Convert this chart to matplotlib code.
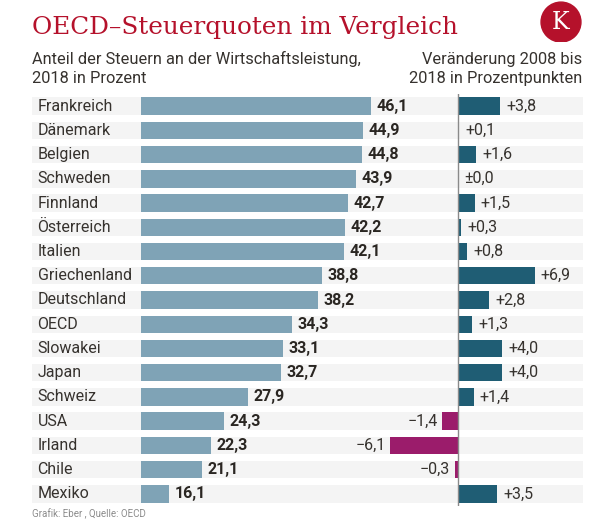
import matplotlib.pyplot as plt
from matplotlib.patches import Circle

laender = ['Frankreich', 'Dänemark', 'Belgien', 'Schweden', 'Finnland',
           'Österreich', 'Italien', 'Griechenland', 'Deutschland', 'OECD',
           'Slowakei', 'Japan', 'Schweiz', 'USA', 'Irland', 'Chile', 'Mexiko']
quote_2018 = [46.1, 44.9, 44.8, 43.9, 42.7, 42.2, 42.1, 38.8, 38.2, 34.3,
              33.1, 32.7, 27.9, 24.3, 22.3, 21.1, 16.1]
veraenderung = [3.8, 0.1, 1.6, 0.0, 1.5, 0.3, 0.8, 6.9, 2.8, 1.3,
                4.0, 4.0, 1.4, -1.4, -6.1, -0.3, 3.5]

W, H = 616, 525
ROT = '#b5112b'
TEXT = '#36322e'
plt.rcParams['font.family'] = ['Roboto', 'DejaVu Sans']


def box(x0, y0, x1, y1):
    # Pixelkoordinaten (oben links) -> figure-Koordinaten
    return [x0 / W, 1 - y1 / H, (x1 - x0) / W, (y1 - y0) / H]


def zahl(v, vorzeichen=False):
    s = f'{abs(v):.1f}'.replace('.', ',')
    if not vorzeichen:
        return s
    if v > 0:
        return '+' + s
    if v < 0:
        return '\u2212' + s
    return '\u00b1' + s


fig = plt.figure(figsize=(W / 100, H / 100), dpi=100)
fig.patch.set_facecolor('white')

n = len(laender)
y = list(range(n))
oben, unten = 94, 506
bar_h = 0.72
basis = 12  # linke Achse beginnt nicht bei null

# Hintergrundstreifen
ax_bg = fig.add_axes(box(32, oben, 583, unten))
ax_bg.barh(y, [1] * n, left=0, height=bar_h, color='#f4f4f4')
ax_bg.set_xlim(0, 1)
ax_bg.set_ylim(n - 0.5, -0.5)
ax_bg.axis('off')
for i, land in enumerate(laender):
    ax_bg.text(0.01, i, land, va='center', ha='left', fontsize=11.5, color=TEXT)

# linke Balken: Steuerquote 2018
ax1 = fig.add_axes(box(141, oben, 450, unten))
ax1.barh(y, [v - basis for v in quote_2018], left=basis, height=bar_h,
         color='#7fa3b6')
ax1.set_xlim(basis, basis + 309 / 6.75)
ax1.set_ylim(n - 0.5, -0.5)
ax1.axis('off')
ax1.patch.set_alpha(0)
for i, v in enumerate(quote_2018):
    ax1.annotate(zahl(v), (v, i), xytext=(4, 0), textcoords='offset points',
                 va='center', ha='left', fontsize=11.5, fontweight='bold',
                 color='#2a2622')

# rechte Balken: Veränderung 2008-2018
px = 11.1
ax2 = fig.add_axes(box(380, oben, 583, unten))
ax2.set_xlim(-(458 - 380) / px, (583 - 458) / px)
ax2.set_ylim(n - 0.5, -0.5)
farben = ['#1f5d74' if v >= 0 else '#9b1c6b' for v in veraenderung]
ax2.barh(y, veraenderung, height=bar_h, color=farben)
ax2.axvline(0, color='#8a8a8a', lw=1)
ax2.axis('off')
ax2.patch.set_alpha(0)
for i, v in enumerate(veraenderung):
    if v >= 0:
        ax2.annotate(zahl(v, True), (v, i), xytext=(4.5, 0),
                     textcoords='offset points', va='center', ha='left',
                     fontsize=11.5, color=TEXT)
    else:
        ax2.annotate(zahl(v, True), (v, i), xytext=(-3.5, 0),
                     textcoords='offset points', va='center', ha='right',
                     fontsize=11.5, color=TEXT)

# Titel, Untertitel, Quelle
fig.text(32 / W, 1 - 34 / H, 'OECD\u2013Steuerquoten im Vergleich',
         family='DejaVu Serif', fontsize=17.8, color=ROT, va='baseline')
fig.text(32 / W, 1 - 64 / H, 'Anteil der Steuern an der Wirtschaftsleistung,',
         fontsize=11.8, color=TEXT, va='baseline')
fig.text(32 / W, 1 - 83 / H, '2018 in Prozent',
         fontsize=11.8, color=TEXT, va='baseline')
fig.text(582 / W, 1 - 64 / H, 'Veränderung 2008 bis',
         fontsize=11.8, color=TEXT, va='baseline', ha='right')
fig.text(582 / W, 1 - 83 / H, '2018 in Prozentpunkten',
         fontsize=11.8, color=TEXT, va='baseline', ha='right')
fig.text(32 / W, 1 - 517 / H, 'Grafik: Eber , Quelle: OECD',
         fontsize=7, color='#8c8c8c', va='baseline')

# Logo
ax_logo = fig.add_axes(box(540, 0, 582, 42))
ax_logo.set_xlim(-1, 1)
ax_logo.set_ylim(-1, 1)
ax_logo.set_aspect('equal')
ax_logo.axis('off')
ax_logo.add_patch(Circle((0, -0.05), 0.95, color=ROT))
ax_logo.text(0, -0.07, 'K', family='DejaVu Serif', fontsize=17,
             color='white', ha='center', va='center')

fig.savefig('out.png', dpi=100)
